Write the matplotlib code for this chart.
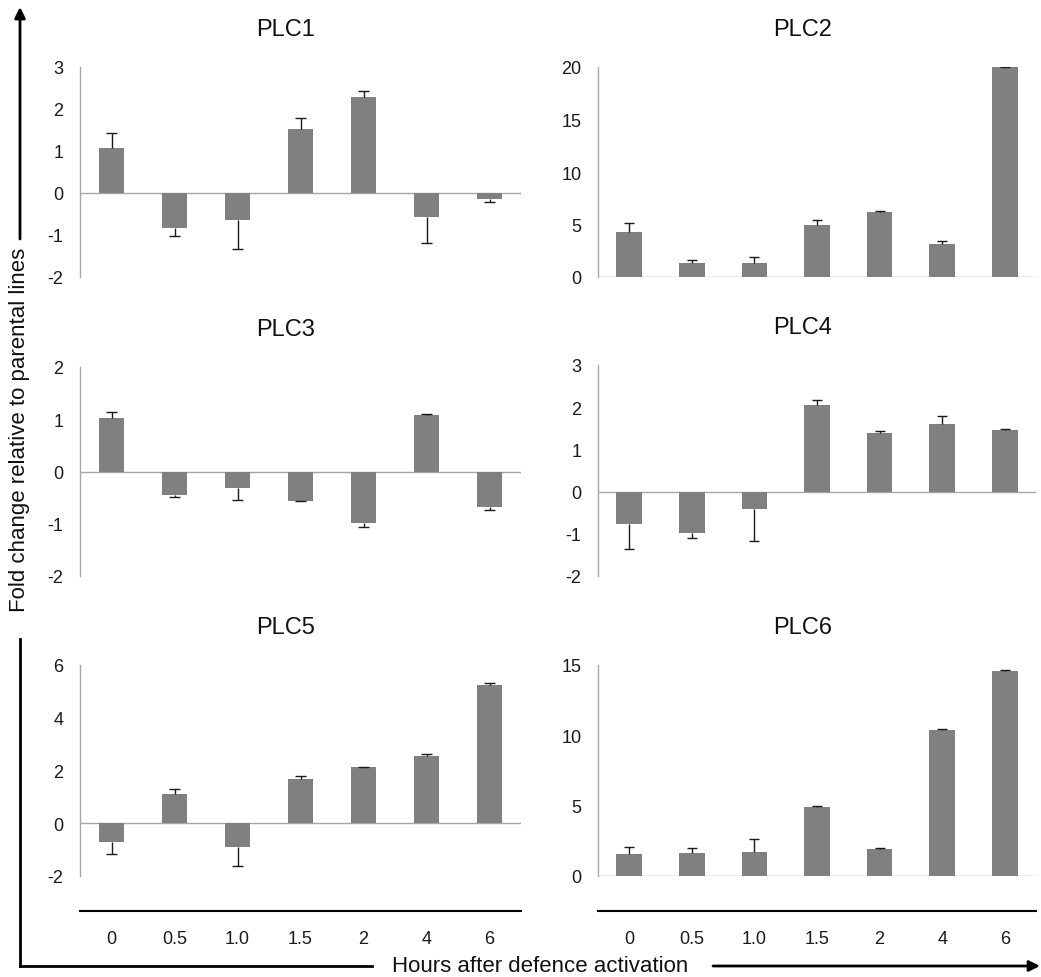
import matplotlib.pyplot as plt
import numpy as np

plt.rcParams['font.family'] = ['Liberation Sans', 'DejaVu Sans']
plt.rcParams['axes.unicode_minus'] = False

horas = ['0', '0.5', '1.0', '1.5', '2', '4', '6']

# valor medio y error (solo hacia fuera) de cada gen
plc1 = [1.07, -0.83, -0.64, 1.52, 2.28, -0.58, -0.14]
plc1_err = [0.36, 0.19, 0.69, 0.26, 0.15, 0.61, 0.07]
plc2 = [4.29, 1.33, 1.33, 4.95, 6.16, 3.17, 19.97]
plc2_err = [0.85, 0.29, 0.57, 0.45, 0.09, 0.23, 0.05]
plc3 = [1.02, -0.45, -0.31, -0.56, -0.99, 1.08, -0.68]
plc3_err = [0.11, 0.03, 0.23, 0.01, 0.08, 0.03, 0.05]
plc4 = [-0.77, -0.99, -0.42, 2.06, 1.39, 1.61, 1.47]
plc4_err = [0.58, 0.12, 0.74, 0.12, 0.04, 0.17, 0.02]
plc5 = [-0.72, 1.11, -0.91, 1.67, 2.12, 2.56, 5.24]
plc5_err = [0.43, 0.20, 0.70, 0.11, 0.03, 0.05, 0.09]
plc6 = [1.59, 1.66, 1.71, 4.93, 1.90, 10.36, 14.55]
plc6_err = [0.50, 0.31, 0.89, 0.04, 0.07, 0.11, 0.12]

W, H = 1041, 978
fig = plt.figure(figsize=(W / 100, H / 100), dpi=100)

# (titulo, valores, errores, limites y, paso, caja en pixeles x0, x1, y_top, y_bottom)
paneles = [
    ('PLC1', plc1, plc1_err, (-2, 3), 1, (80, 521, 68, 278)),
    ('PLC2', plc2, plc2_err, (0, 20), 5, (598, 1036, 68, 278)),
    ('PLC3', plc3, plc3_err, (-2, 2), 1, (80, 521, 368, 577)),
    ('PLC4', plc4, plc4_err, (-2, 3), 1, (598, 1036, 366, 577)),
    ('PLC5', plc5, plc5_err, (-2, 6), 2, (80, 521, 666, 877)),
    ('PLC6', plc6, plc6_err, (0, 15), 5, (598, 1036, 666, 877)),
]

x = np.arange(len(horas))
gris = '#a6a6a6'

for i, (nombre, vals, errs, lim, paso, caja) in enumerate(paneles):
    x0, x1, yt, yb = caja
    ax = fig.add_axes([x0 / W, 1 - yb / H, (x1 - x0) / W, (yb - yt) / H])
    vals = np.array(vals)
    errs = np.array(errs)
    # la barra de error va solo hacia fuera de la barra
    fin = vals + np.sign(vals) * errs
    ax.bar(x, vals, width=0.41, color='#808080', zorder=2)
    ax.vlines(x, vals, fin, color='#1a1a1a', lw=1, zorder=3)
    ax.hlines(fin, x - 0.08, x + 0.08, color='#1a1a1a', lw=1, zorder=3)
    ax.axhline(0, color=gris, lw=1, zorder=1)
    ax.set_xlim(-0.5, 6.5)
    ax.set_ylim(*lim)
    ax.set_yticks(np.arange(lim[0], lim[1] + 0.1, paso))
    ax.tick_params(axis='y', length=0, pad=12, labelsize=13, labelcolor='#1a1a1a')
    for s in ['top', 'right']:
        ax.spines[s].set_visible(False)
    ax.spines['left'].set_color(gris)
    ax.spines['left'].set_linewidth(1)
    if i >= 4:
        ax.spines['bottom'].set_position(('outward', 25))
        ax.spines['bottom'].set_color('black')
        ax.spines['bottom'].set_linewidth(1.5)
        ax.set_xticks(x)
        ax.set_xticklabels(horas)
        ax.tick_params(axis='x', length=0, pad=14, labelsize=13, labelcolor='#1a1a1a')
    else:
        ax.spines['bottom'].set_visible(False)
        ax.set_xticks([])
    ax.text(0.467, 1 + 38 / (yb - yt), nombre, transform=ax.transAxes,
            ha='center', va='center', fontsize=17, color='#111111')

# marco con flechas
negro = dict(arrowstyle='-|>', lw=2, color='black', mutation_scale=16,
             shrinkA=0, shrinkB=0)
fig.add_artist(plt.Line2D([20 / W, 20 / W], [1 - 640 / H, 1 - 967 / H],
                          color='black', lw=2))
fig.add_artist(plt.Line2D([20 / W, 372 / W], [1 - 967 / H, 1 - 967 / H],
                          color='black', lw=2))
plt.annotate('', xy=(20, H - 8), xytext=(20, H - 240), xycoords='figure pixels',
             textcoords='figure pixels', arrowprops=negro)
plt.annotate('', xy=(1040, H - 967), xytext=(713, H - 967), xycoords='figure pixels',
             textcoords='figure pixels', arrowprops=negro)

fig.text(20 / W, 1 - 430 / H, 'Fold change relative to parental lines',
         rotation=90, ha='center', va='center', fontsize=16, color='#111111')
fig.text(540 / W, 1 - 967 / H, 'Hours after defence activation',
         ha='center', va='center', fontsize=16, color='#111111')

plt.savefig('out.png', dpi=100)
